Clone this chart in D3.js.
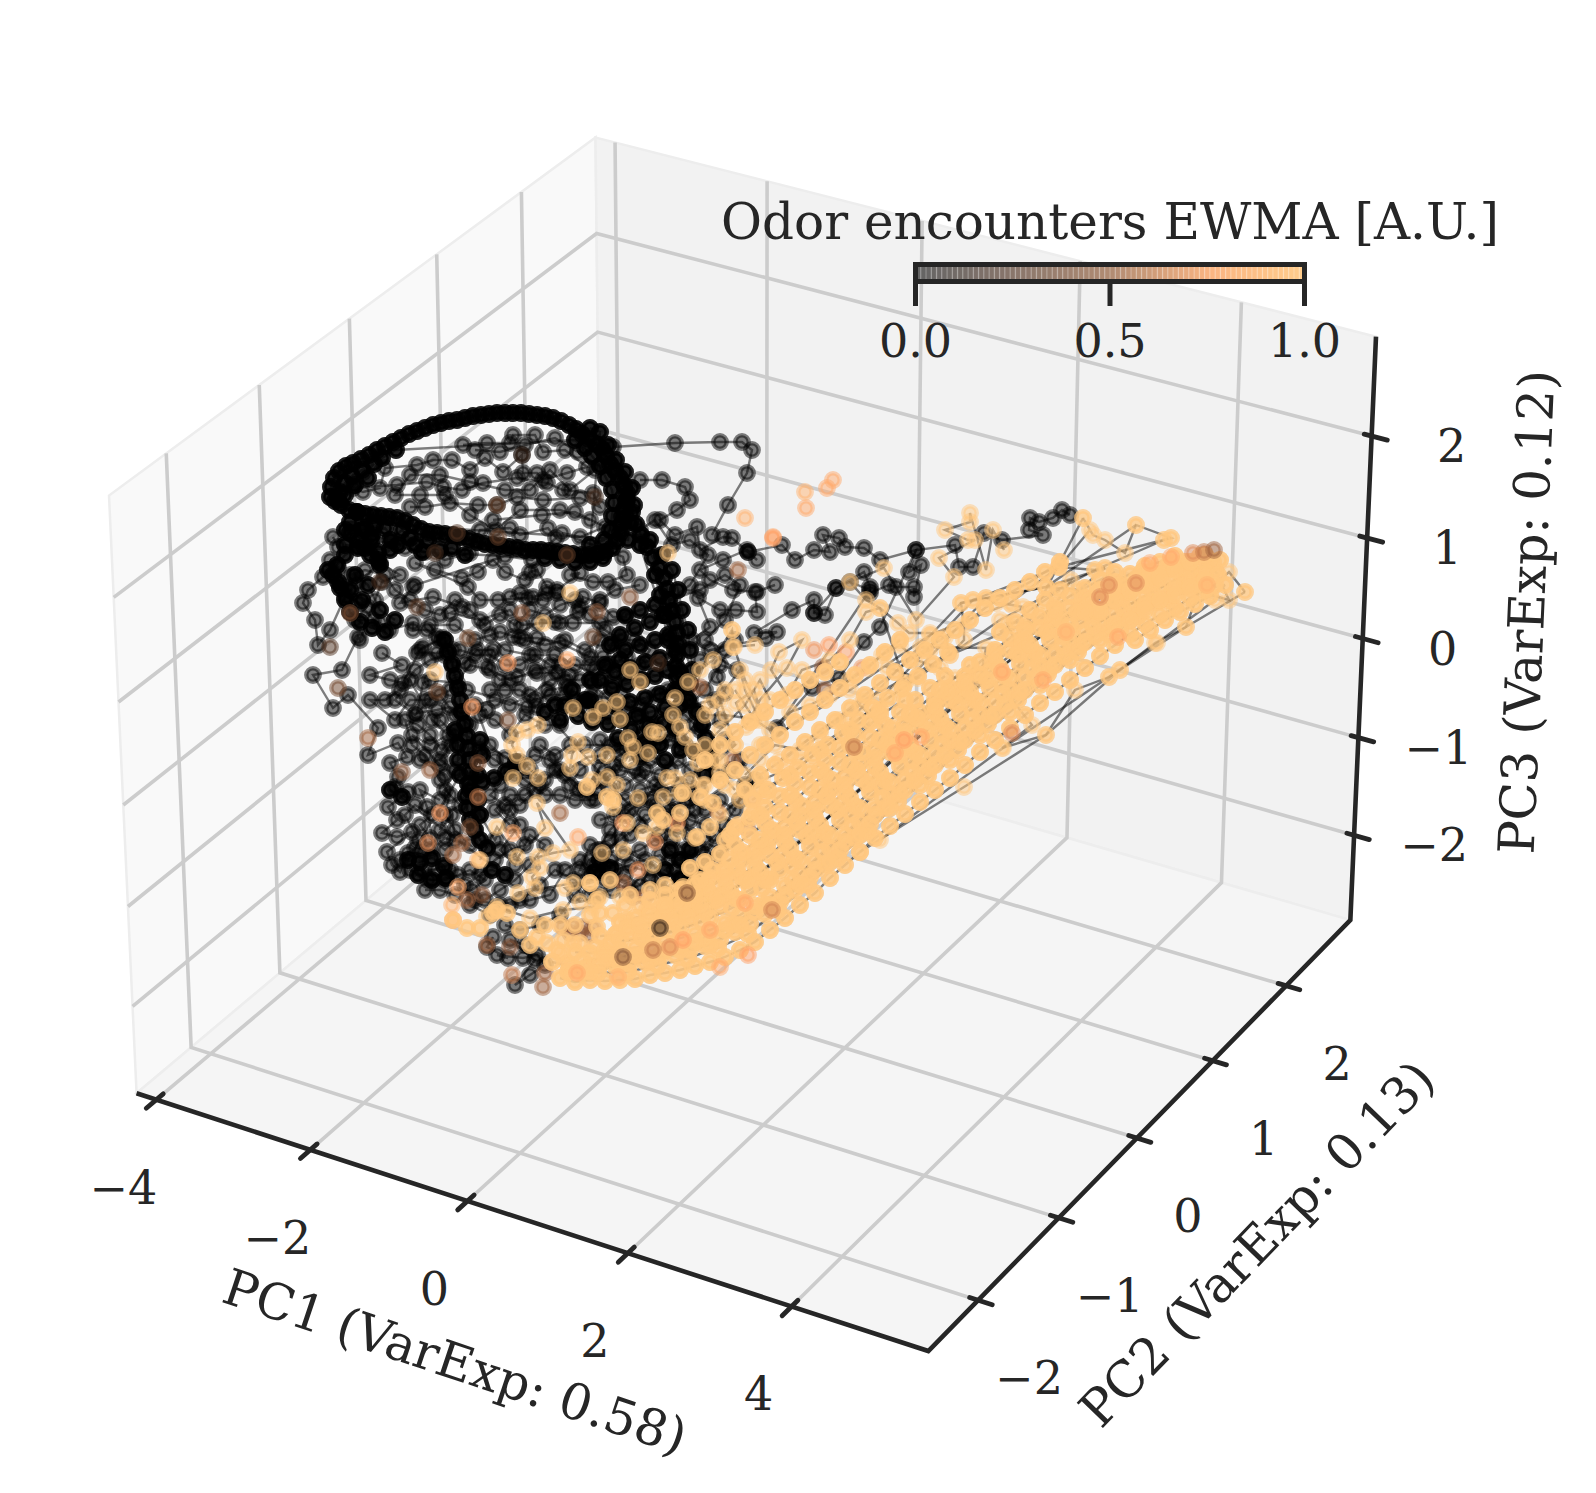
<!DOCTYPE html>
<meta charset="utf-8">

<!-- Load d3.js -->
<script src="https://d3js.org/d3.v7.min.js"></script>

<style>
    body { margin: 0; background: #fff; }
    text { font-family: "DejaVu Serif", serif; fill: #262626; }
</style>

<div id="chart"></div>

<script>
    const width = 1596, height = 1493;

    //  axis limits and ticks
    const xLimits = [-4.26, 5.64], yLimits = [-2.6, 2.9], zLimits = [-2.88, 2.96];
    const xTicks = [-4, -2, 0, 2, 4], yTicks = [-2, -1, 0, 1, 2], zTicks = [-2, -1, 0, 1, 2];
    const colorbarTicks = [0, 0.5, 1];

    //  The trajectory points as they were read off the picture. One flat projection
    //  can not give the three PCs back, so these are view plane positions (x, y, x, y, ...)
    //  run through viewX / viewY below.

    //  dense loops, the trajectory passed there many times
    const rimLoop = [330,497,331,487,334,478,339,471,346,466,353,463,361,459,369,455,377,450,385,446,393,442,401,438,409,434,417,431,425,428,433,425,441,423,449,421,457,420,465,418,473,416,481,415,489,414,497,413,505,413,513,413,521,413,529,414,537,415,545,416,553,418,561,421,569,425,576,429,582,434,589,439,596,444,602,449,606,456,610,464,615,471,620,478,624,485,627,493,626,501,624,509,622,517,621,525,620,533,617,541,612,548,605,552,597,554,589,555,581,555,573,554,565,553,557,552,549,551,541,550,533,550,525,550,517,548,509,547,501,546,493,545,485,544,477,542,469,539,461,537,453,535,445,534,437,533,429,532,421,529,413,525,405,521,397,518,389,517,381,516,373,515,365,514,357,512,349,510,341,505,335,501];
    const rimInner = [338,500,340,492,345,483,352,476,362,470,374,464,345,495,355,485,368,478,382,458,396,450,575,440,585,448,592,456,600,466,606,478,612,490,614,503,612,516,610,530,604,540,590,545,600,432,590,428,608,445,616,460,625,472,632,488,634,505,630,522,628,540,350,522,362,530,375,525,390,540,402,530,415,545,428,540,440,550,452,548,465,555,345,530,358,540,372,535,385,528,398,545,410,538,422,552,545,558,560,560,575,562,590,562,603,558,350,533,365,548,378,560,390,550,345,545];
    const rightBand = [627,500,632,512,636,524,641,535,647,547,653,558,659,568,664,578,667,589,669,600,672,611,675,622,677,633,678,644,677,655,676,666,677,677,680,688,688,700,697,712,702,725,706,738,708,750,710,762,640,545,650,540,662,555,672,570,678,590,682,610,688,630,690,650,692,670,655,575,660,595,663,615,668,640];
    const leftStrand = [357,512,365,528,372,540,378,552,380,565,370,555,358,548,345,555,337,565,333,575,340,588,345,600,350,612,360,622,372,628,385,632,328,570,338,582,350,590,362,600,355,575,368,585,380,610,395,620];
    const lowerStrand = [445,640,448,652,452,664,455,676,458,688,460,700,462,712,465,724,467,736,468,748,470,760,470,772,468,784,466,796,467,808,470,820,475,830,480,840,487,848,470,790,482,782,494,778,506,772,516,762,455,730,458,745,458,760,480,740,482,755,478,775,478,800,480,815,460,775,408,860,420,862,432,858,444,866,418,875,432,880,446,878,492,870,505,875,390,790,402,797];
    const centerMass = [625,615,640,610,655,605,665,615,650,622,635,628,620,635,610,645,625,650,640,645,655,640,668,635,675,650,660,658,645,662,630,668,615,672,600,680,612,688,627,684,642,680,655,676,668,670,680,672,690,684,675,690,660,694,645,698,630,702,615,706,600,710,585,700,572,690,565,705,578,716,592,722,608,724,622,720,637,716,650,712,665,708,680,706,675,728,660,745,645,742,632,730,648,726,663,722,618,738,640,756,665,760,590,680,605,665,620,660,590,700,555,705,560,720,545,712,670,850,680,860,690,850,665,870,680,878,600,860,610,868,595,872,680,750,695,752,712,750,705,775];

    //  the lighter black loops
    const domeRows = [
        [463,445,487,443,510,443,513,435,535,435,543,452,565,450,587,467,567,473,543,480,537,473,523,473,522,455,503,472,485,458,470,470,452,460,433,460,417,465,385,468,380,488,363,492,353,488,397,485,427,482,443,487,462,490,483,483,517,478,547,483,563,490,593,493,600,507,580,498,543,500,517,497,497,505,478,505,450,503,425,507,410,507],
        [475,450,500,452,525,445,555,438,578,452,595,470,570,490,550,470,530,490,505,490,470,482,440,475,410,475,395,495,420,495,445,495,470,515,495,530,520,510,560,510,590,520],
        [493,520,542,515,575,512,605,527,580,537,562,533,623,557,627,575,608,582,593,582,570,575,580,573,557,590,547,587,537,570,530,572,525,580,505,572,493,560,478,572,462,578,435,570,415,563,468,587,480,600,498,600,527,598,543,600],
        [333,537,338,547,360,547,392,540,405,548,425,552,445,560,470,553,480,530,510,528,520,535,548,528,556,538,532,560,505,556,415,585,413,587,400,603,433,597,462,607,450,613,480,620,510,610,522,625,555,622,578,612,600,600,615,590,640,585],
        [330,560,338,567,323,577,308,590,303,603,315,620,318,645,330,630,345,597,357,583,380,563,400,575,382,582,375,600,360,640,358,637,342,670,313,675,333,708,348,695,378,728,368,755,398,743,407,757,390,763,398,777,395,787,408,792,388,807,397,820,382,833,397,837,412,832,387,852,392,865,400,872,408,853,423,853,423,870,437,870,427,807,420,790,440,800],
        [382,653,402,665,370,675,390,680,403,683,420,650,440,640,430,625,455,625,475,640,500,632,525,640,545,645,565,640,585,650,600,640,590,665,560,665,535,670,510,680,490,670,470,665,450,690,430,700,415,715,395,700,410,680,432,720,448,735,430,745,412,735,440,765,420,760,445,775],
        [343,587,347,597,360,603,367,607,355,620,373,620,380,623,390,630,413,623,413,630,427,630,437,637,443,638,423,647,417,653,437,653,453,650,453,667,465,663,477,650,493,650,487,667,500,680,517,677,537,673,557,673,567,687,547,690,537,707,527,707,467,690,457,683,430,680,423,683,417,713,437,710,450,707,460,713,487,710],
        [510,597,520,593,533,597,547,593,557,593,580,607,583,597,600,603,613,617,627,617,600,623,573,623,560,623,537,623,513,637,520,638,537,638,560,643,590,657,603,657,627,657,613,643,593,683,613,683,575,665,555,655,530,655,505,650,490,635],
        [350,575,365,570,385,575,395,590,410,600,425,610,440,615,455,600,470,610,485,625,500,615,515,625,530,610,545,615,560,605,575,600,590,615,605,630,620,640,635,640,650,650,640,665,625,675,610,665,595,670,580,680,565,680,550,665,535,655,520,665,505,665,490,655,475,655,460,650,445,655,430,660,415,670,400,690,385,700,370,700,395,720,410,700,425,700,440,695,455,715,470,725,450,745,440,760,455,770,445,790,460,805,445,815,455,830,470,845,445,838,430,850,415,848,400,860],
        [490,690,505,690,520,690,535,700,550,695,565,695,580,705,595,710,610,715,625,710,640,715,655,725,670,715,685,715,695,725,680,740,665,735,650,750,630,745,615,745,600,755,580,770,570,785,555,770,540,785,525,795,510,795,495,810,510,825,525,845,510,850,495,860,480,875,465,885,450,870,475,900,500,905,520,900,540,885,555,870,575,880,590,895],
        [600,740,620,770,640,775,660,790,680,785,695,810,680,825,660,835,640,825,620,840,605,850,590,860,610,880,630,890,650,880,670,895,690,880,705,855,725,825,740,800,755,780,740,760,725,740],
        [440,720,455,735,442,750,430,735,418,725,405,720,412,745,425,755,440,780,450,795,440,830,452,815,455,840,445,850,430,838,420,825,432,815,415,805,405,815,418,840,410,870,428,880,445,880,458,875,470,870,485,880,472,890,455,895,440,890,425,890],
        [480,715,495,720,510,735,525,715,545,725,560,725,575,700,592,695,607,698,622,695,640,705,655,695,668,690,650,730,635,745,620,755,600,768,585,790,565,775,550,760,535,755,520,762,505,758,490,745,475,705,495,700,510,705,530,695,550,680,570,675],
        [540,745,555,755,570,745,585,745,610,745,625,750,640,738,655,745,670,740,685,745,700,755,690,790,670,770,650,760,635,770,615,765,600,780,590,800,578,790,560,770,545,780,530,770,515,775,500,785,490,795,505,805,520,805,535,790],
        [480,750,495,760,510,770,525,780,545,795,560,795,575,800,595,800,610,790,625,800,640,790,655,785,670,795,690,800,705,810,720,800,735,810,745,785,730,770,715,775],
        [480,815,495,840,510,810,520,825,500,850,515,865,530,835,545,845,530,865,515,880,500,890,485,900,470,905,490,915,510,905,530,900,550,895,565,870,580,860,590,875,575,895,560,915,540,925,520,930,505,925],
        [600,820,615,815,630,835,645,815,660,815,675,810,690,820,705,825,715,835,700,850,688,860,675,870,660,855,645,860,630,865,615,870,605,880,595,865,580,870,590,845,610,840,630,810,650,800,672,825,690,835,705,842,720,850,730,840,715,860,700,870,660,890,680,895,695,880,705,865],
        [596,790,610,775,625,785,645,770,660,775,678,760,690,770,700,790,685,800,670,810,655,805,640,800,625,815,610,830,598,850,610,860,600,872,625,855,640,850,655,840,672,840,685,850,670,860,690,868,680,880,660,880,650,870,640,885,625,875,612,890,598,895],
        [493,937,487,947,508,958,497,955,523,958,537,955,545,965,530,975,515,985,535,960,510,940,525,945],
        [613,447,675,443,720,442,742,442,752,450,747,473,728,505,712,535],
        [640,480,662,480,685,487,690,500,677,510,660,520,675,535,697,527,700,550,723,537,732,538,748,552,757,560,747,550,723,560,700,570,710,580,733,590,757,592,775,585,755,592,757,612,736,610,720,610,698,598,710,627,692,640,737,670,720,665,717,677,725,693,703,715,690,700,710,650,766,638,777,632,754,633,792,610,814,600,814,613,825,615,836,588,864,572,870,587,870,593,889,585,896,587,914,587,914,597,921,565,909,572,916,550,880,560,864,548,845,547,839,538,823,535,830,552,814,550,795,560,782,545,748,552],
        [640,530,655,520,672,545,690,540,708,555,690,585,670,600,700,590,725,575,740,585,725,620,705,640,725,650,700,660,735,640,705,690,690,705,715,700,720,720,700,730],
        [1070,515,1062,510,1053,518,1039,522,1030,518,1029,530,1043,535,1002,540,984,533,973,567,959,567,955,545,916,550,880,627,864,642,839,678,812,688,777,728,870,590,850,582,836,588,814,613]
    ];

    //  the light orange loops, last value of the colour scale
    const orangeRows = [
        [560,978,575,982,590,980,605,981,620,980,635,979,650,975,665,973,680,970,695,966,710,962,725,957,740,950,755,942,770,930,785,918,800,905,815,893,830,878,845,865,860,852,875,838,890,826,905,814,920,802,935,790,950,778,965,765,980,752,995,740,1010,728,1025,715,1040,703,1055,692,1070,680,1085,668,1100,656,1115,645,1130,634,1145,624,1160,615,1175,608,1190,598,1205,590,1215,585],
        [552,962,570,966,585,968,600,965,615,966,630,964,645,962,660,957,675,955,690,950,705,946,720,940,735,932,750,924,765,914,780,902,795,890,810,877,825,864,840,850,855,838,870,824,885,808,900,794,915,780,930,768,945,755,960,742,975,730,990,716,1005,704,1020,692,1035,678,1050,668,1065,656,1080,646,1095,636,1110,628,1125,618,1140,610,1155,602,1170,594,1185,586,1200,578,1215,570],
        [575,952,590,953,605,950,620,950,635,948,650,946,665,942,680,938,695,934,710,930,725,923,740,915,755,906,770,897,785,886,800,874,815,861,830,848,845,835,860,822,875,808,890,794,905,780,920,766,935,754,950,740,965,728,980,715,995,702,1010,690,1025,678,1040,666,1055,654,1070,642,1085,632,1100,622,1115,614,1130,604,1145,596,1160,588,1175,580,1190,572,1205,564,1220,560],
        [600,936,615,935,630,933,645,930,660,927,675,922,690,918,705,912,720,906,735,898,750,890,765,880,780,870,795,858,810,846,825,833,840,820,855,806,870,792,885,780,900,766,915,752,930,740,945,726,960,714,975,700,990,688,1005,676,1020,664,1035,652,1050,640,1065,630,1080,620,1095,610,1110,600,1125,592,1140,584,1155,576,1170,568,1185,562,1200,556],
        [620,922,635,918,650,914,665,910,680,905,695,900,710,893,725,885,740,876,755,866,770,855,785,842,800,830,815,818,830,805,845,792,860,778,875,766,890,752,905,738,920,726,935,712,950,700,965,688,980,675,995,662,1010,650,1025,640,1040,628,1055,618,1070,608,1085,598,1100,590,1115,582,1130,574,1145,566,1160,562,1175,556],
        [650,900,665,895,680,890,695,884,710,878,725,870,740,860,755,850,770,838,785,827,800,815,815,802,830,790,845,777,860,763,875,750,890,738,905,724,920,712,935,700,950,688,965,676,980,662,995,650,1010,638,1025,628,1040,616,1055,606,1070,596,1085,588,1100,580,1115,572],
        [690,868,705,862,720,854,735,845,750,835,765,823,780,812,795,800,810,787,825,775,840,762,855,750,870,737,885,725,900,712,915,700,930,688,945,676],
        [1000,632,1015,622,1030,610,1045,600,1060,590],
        [735,828,750,818,765,808,780,796,795,784,810,772,825,760,840,748,855,735,870,722],
        //  staggered passes that close the band
        [568,972,598,973,628,972,658,965,688,958,718,948,748,934,778,910,808,885,838,858,868,831,898,802,928,776,958,750,988,724,1018,700,1048,674,1078,652,1108,634,1138,616,1168,600,1198,584],
        [612,943,642,938,672,932,702,922,732,908,762,888,792,866,822,840,852,814,882,786,912,760,942,734,972,708,1002,684,1032,658,1062,636,1092,616,1122,598,1152,582,1182,568],
        [662,918,692,908,722,895,752,878,782,856,812,832,842,804,872,778,902,748,932,722,962,696,992,670,1022,646,1052,626,1082,606,1112,588,1142,572,1172,562],
        [712,870,742,852,772,830,802,806,832,780,862,752,892,728],
        [583,960,613,958,643,954,673,947,703,938,733,924,763,904,793,880,823,852,853,826,883,798,913,772,943,744,973,720,1003,694,1033,668,1063,646,1093,626,1123,608,1153,592,1183,576,1213,562],
        [627,928,657,922,687,914,717,900,747,880,777,862,807,836,837,810,867,784,897,756,927,730,957,704,987,680,1017,654,1047,632,1077,612,1107,594,1137,578,1167,566],
        [677,900,707,888,737,868,767,846,797,822,827,796,857,770,887,744,917,718,947,692],
        [590,972,620,965,650,960,680,950,710,945,740,925,770,905,800,885,830,862,860,835,890,808,920,785,950,760,980,735,1010,712,1040,685,1070,660,1100,640,1130,620,1160,600,1190,585],
        [605,958,635,955,665,950,695,942,725,930,755,912,785,895,815,870,845,842,875,815,905,790,935,765,965,740,995,715,1025,690,1055,665,1085,642,1115,624,1145,604,1175,588,1205,572],
        [620,940,650,938,680,928,710,918,740,900,770,880,800,860,830,835,860,808,890,782,920,755,950,730,980,702,1010,678,1040,655,1070,632,1100,612,1130,592,1160,575,1190,570],
        [640,925,670,918,700,905,730,890,760,872,790,848,820,825,850,798,880,772,910,745,940,718,970,692,1000,668,1030,645,1060,620,1090,600,1120,585,1150,572],
        [665,905,695,895,725,878,755,858,785,835,815,810,845,785,875,758,905,732,935,706,965,682,995,655,1025,632,1055,610],
        [700,880,730,860,760,840,790,815,820,790,850,765,880,740,910,714,940,690,970,665],
        [730,835,760,815,790,795,820,770,850,745,880,715,905,700],
        [760,790,790,775,820,750,850,730,880,710],
        //  the upper side of the band
        [745,790,760,775,775,765,790,755,805,742,820,730,835,720,850,708,865,695,880,683,895,672,910,660,925,650,940,640,955,630,970,620,985,608,1000,598,1015,590,1030,582,1045,572,1060,562],
        [720,780,735,770,750,755,765,745,780,735,795,722,810,712,825,700,840,688,855,675,870,665,885,652,900,640],
        [705,760,720,745,735,732,750,722,765,712,780,700,795,690,810,680,825,672,840,662],
        [752,800,768,790,783,778,798,768,813,755,828,745,843,733,858,720,873,708,888,698,903,688,918,676,933,664,948,652],
        //  the tip
        [1130,590,1145,585,1160,578,1175,570,1190,562,1205,555,1218,575,1205,580,1190,588,1175,595,1160,600,1145,610,1130,620,1120,630,1135,640,1150,630,1165,620,1180,612,1195,604,1210,596,1225,585,1100,610,1115,600,1085,612,1070,625]
    ];

    //  sparse passes above and below the band, one pass each
    const orangeFringe = [
        [1245,592,1229,572,1214,585,1200,592,1229,600,1210,560,1186,627,1155,643,1120,670,1109,677,1075,690,1046,735,1002,748,1032,725,1012,700,1021,655,1016,643,1007,623,1029,622,1023,607,1012,605,996,603,986,598,973,600,961,603,964,625,964,640,950,655,945,637,930,633,909,633,898,623,880,608,866,612,850,640,830,660,802,670,787,695,771,670,779,652,802,640,787,668,760,700,746,727,736,703,754,690,761,712,745,680,734,647,732,630],
        [1164,540,1171,538,1136,525,1125,553,1105,540,1093,535,1083,518,1090,530,1059,567,1095,570,1105,568,1079,590,1046,587,1071,580,1058,600,1040,620,1020,640],
        [1004,550,993,530,986,570,970,513,970,522,945,530,968,540,975,540,939,558,954,577,916,620,884,568,850,582,866,600,880,608,905,683,918,678,887,667,930,650,921,647,986,648,980,680,960,690,935,705,910,715,895,735,875,720,860,705,840,720,820,735,800,750,775,745,760,760,745,775],
        [735,690,755,720,770,730,790,712,810,705,830,695,850,680,868,668,882,655,900,645,916,660,940,668,955,678,975,672,995,665],
        [720,700,735,745,715,760,725,785,705,800,720,815,740,800,762,780,785,770],
        //  long straight passes
        [860,852,964,787,1046,735,1120,670,1186,627,1245,592],
        [880,840,1003,748,1109,677,1157,643,1215,600],
        [760,745,850,690,930,635,1010,603,1059,567],
        [780,760,864,700,950,655,1029,622,1083,518],
        [905,683,986,598,1046,587,1136,525],
        [880,700,973,600,1059,567,1171,538],
        [850,720,961,603,1046,587,1105,568],
        [800,760,900,690,1000,620,1095,570,1164,540]
    ];

    //  the lower left of the band, where it runs into the dark part
    const orangeFill = [453,920,467,928,493,913,497,910,507,913,480,928,537,937,547,943,557,950,567,963,580,970,560,953,563,940,580,943,595,947,590,967,607,953,600,913,613,913,627,920,617,933,597,927,573,943,640,933,647,910,663,907,680,910,683,887,707,883,723,870,713,900,740,853,743,880,760,847,770,877,770,830,597,900,590,883,610,880,587,787,607,797,613,800,700,797,713,803,680,813,697,837,663,820,657,813,710,827,683,793,725,840,738,825,752,812,765,795,630,895,650,890,665,885,520,930,530,945,545,925,560,925,575,925,590,915,625,905,640,905];

    //  orange loops that run through the dark part, these sit on top of the black
    const orangeChains = [
        [573,708,593,717,603,708,617,702,620,719],
        [538,725,527,730,517,733,512,745,517,755,527,766,538,778,513,778],
        [578,742,572,755,570,768,588,757,607,755,592,780,607,777,617,785],
        [628,738,633,747,630,760,648,753,658,733,652,732],
        [675,698,673,715,680,727,685,737,693,750,698,763],
        [667,778,675,778,690,780,705,785,720,773,735,790],
        [640,682,630,670,688,682,700,670,713,660,732,630,733,647,755,645],
        [480,860,497,827,517,857,545,828,537,803,570,850,553,853,538,857,540,868,532,877,535,888,518,893,573,883,590,883,565,888,580,902,600,897,593,907,563,910,530,918,497,907,487,917],
        [602,853,623,850,653,865,620,897,613,807,627,823,643,833,657,827,677,833,695,838,663,797,680,793,703,785,638,798,720,760,735,745,705,745,720,730,745,705,760,680,770,700],
        [710,705,725,690,740,670,745,690,760,720,725,715,705,715]
    ];

    //  single points in between, [x, y, odor value]
    const midPoints = [
        [457,533,.25],[497,505,.3],[498,537,.3],[567,555,.3],[435,553,.2],[595,497,.2],[522,455,.15],[380,582,.2],[417,607,.25],[522,613,.4],[468,638,.35],[658,663,.2],[630,597,.4],[593,637,.3],[597,612,.4],[508,663,.8],[567,660,.85],[350,613,.4],[330,647,.25],[338,688,.35],[437,692,.3],[472,707,.8],[508,720,.35],[745,518,.9],[773,537,.85],[738,570,.5],[668,553,1],[570,593,1],[543,623,1],[435,672,1],[700,687,.5],
        [368,738,.5],[402,772,.4],[430,770,.45],[478,797,.6],[470,827,.35],[478,763,.4],[428,843,.7],[462,843,.5],[453,855,.5],[478,860,.9],[458,887,.85],[482,895,.4],[467,900,.5],[452,905,.9],[453,920,.85],[487,945,.5],[510,947,.4],[543,987,.5],[512,975,.6],[545,973,.5],
        [563,927,.45],[573,927,.45],[583,927,.45],[593,928,.45],[570,933,.45],[580,933,.45],[590,935,.45],[578,837,.85],[560,813,.5],[513,833,.85],[440,813,.8],[623,823,.8],[638,870,.75],[677,823,.8],[655,842,.75],[623,883,.5],[633,897,.4],[645,897,.45],[747,828,.55],[753,798,.65],[733,760,.5],[718,812,.55],
        [833,480,.85],[827,488,.85],[805,492,.9],[806,508,.85],[773,538,.8],[862,668,.75],[823,667,.45],[829,645,.8],[846,652,.8],[814,650,.75],[825,690,.45]
    ];
    //  these ones are drawn over the orange band
    const lateMidPoints = [
        [1100,597,.7],[1109,585,.7],[1118,637,.85],[1136,583,.7],[1150,563,.85],[1171,557,.85],[1193,553,.7],[1204,552,.6],[1214,550,.5],[1207,585,.9],[921,737,.85],[904,740,.8],[895,753,.85],[854,747,.6],[1043,680,.85],[1002,672,.85],[1012,733,.7],[1066,632,.9],
        [745,903,.85],[710,930,.85],[670,947,.7],[653,950,.6],[577,973,.85],[618,977,.9],[720,967,.85],[748,955,.8],[683,940,.8],[660,928,.15],[623,957,.4],[772,910,.65],[687,893,.4]
    ];

    const svg = d3.select("#chart")
        .append("svg")
            .attr("width", width)
            .attr("height", height)
            .style("display", "block");

    //  matplotlib's default 3d camera: elev 30, azim -60, dist 10, box aspect 4:4:3
    const aspect = [4, 4, 3].map(d => d * 1.8294640721620434 / Math.hypot(4, 4, 3));
    const elev = 30 * Math.PI / 180, azim = -60 * Math.PI / 180;
    const w = [Math.cos(elev) * Math.cos(azim), Math.cos(elev) * Math.sin(azim), Math.sin(elev)];
    const u = [-Math.sin(azim), Math.cos(azim), 0];
    const v = [w[1] * u[2] - w[2] * u[1], w[2] * u[0] - w[0] * u[2], w[0] * u[1] - w[1] * u[0]];
    const eye = aspect.map((d, i) => d / 2 + 10 * w[i]);
    const dot = (a, b) => a[0] * b[0] + a[1] * b[1] + a[2] * b[2];

    const xBox = d3.scaleLinear().domain(xLimits).range([0, aspect[0]]);
    const yBox = d3.scaleLinear().domain(yLimits).range([0, aspect[1]]);
    const zBox = d3.scaleLinear().domain(zLimits).range([0, aspect[2]]);

    function camera(x, y, z) {
        const d = [xBox(x) - eye[0], yBox(y) - eye[1], zBox(z) - eye[2]];
        return [dot(d, u) / -dot(d, w), dot(d, v) / -dot(d, w)];
    }

    //  fit the camera plane to the box corners of the figure
    const [x0, x1] = xLimits, [y0, y1] = yLimits, [z0, z1] = zLimits;
    const screenX = d3.scaleLinear()
        .domain([camera(x0, y0, z1)[0], camera(x1, y1, z1)[0]])
        .range([109, 1376]);
    const screenY = d3.scaleLinear()
        .domain([camera(x1, y0, z0)[1], camera(x0, y1, z1)[1]])
        .range([1351, 137.5]);

    function project(x, y, z) {
        const c = camera(x, y, z);
        return [screenX(c[0]), screenY(c[1])];
    }
    const path3d = pts => d3.line()(pts.map(p => project(p[0], p[1], p[2])));

    //  the points are already in the view plane
    const viewX = d3.scaleLinear().domain([0, 1596]).range([0, width]);
    const viewY = d3.scaleLinear().domain([0, 1493]).range([0, height]);

    //  copper colormap
    const copper = t => d3.rgb(Math.min(255, 318.75 * t), 199.2 * t, 126.9 * t);

    //  panes
    const panes = [
        {fill: "#f9f9f9", pts: [[x0, y0, z0], [x0, y1, z0], [x0, y1, z1], [x0, y0, z1]]},
        {fill: "#f2f2f2", pts: [[x0, y1, z0], [x1, y1, z0], [x1, y1, z1], [x0, y1, z1]]},
        {fill: "#f5f5f5", pts: [[x0, y0, z0], [x1, y0, z0], [x1, y1, z0], [x0, y1, z0]]}
    ];
    svg.selectAll(".pane")
        .data(panes)
        .join("path")
            .attr("class", "pane")
            .attr("d", d => path3d(d.pts) + "Z")
            .style("fill", d => d.fill)
            .style("stroke", "#ededed")
            .style("stroke-width", 2.5);

    //  grid lines, over the floor and up the walls
    const gridLines = [
        ...xTicks.map(t => [[t, y0, z0], [t, y1, z0], [t, y1, z1]]),
        ...yTicks.map(t => [[x1, t, z0], [x0, t, z0], [x0, t, z1]]),
        ...zTicks.map(t => [[x0, y0, t], [x0, y1, t], [x1, y1, t]])
    ];
    svg.selectAll(".grid")
        .data(gridLines)
        .join("path")
            .attr("class", "grid")
            .attr("d", path3d)
            .style("fill", "none")
            .style("stroke", "#cccccc")
            .style("stroke-width", 3.6);

    //  visible axis lines
    const spines = [
        [[x0, y0, z0], [x1, y0, z0], [x1, y1, z0], [x1, y1, z1]]
    ];
    svg.selectAll(".spine")
        .data(spines)
        .join("path")
            .attr("class", "spine")
            .attr("d", path3d)
            .style("fill", "none")
            .style("stroke", "#262626")
            .style("stroke-width", 4.6);

    //  ticks, a bit in and a bit out of the box
    const tickMarks = [
        ...xTicks.map(t => [[t, y0 - 0.11, z0], [t, y0 + 0.075, z0]]),
        ...yTicks.map(t => [[x1 - 0.1, t, z0], [x1 + 0.17, t, z0]]),
        ...zTicks.map(t => [[x1 - 0.09, y1, t], [x1 + 0.19, y1, t]])
    ];
    svg.selectAll(".tick")
        .data(tickMarks)
        .join("path")
            .attr("class", "tick")
            .attr("d", path3d)
            .style("fill", "none")
            .style("stroke", "#262626")
            .style("stroke-linecap", "round")
            .style("stroke-width", 4.8);

    //  tick labels
    const fmt = d => d3.format("d")(d).replace("-", "\u2212");
    const tickLabels = [
        ...xTicks.map(t => ({t: t, pos: project(t, y0, z0), dx: -33, dy: 88})),
        ...yTicks.map(t => ({t: t, pos: project(x1, t, z0), dx: 51, dy: 78})),
        ...zTicks.map(t => ({t: t, pos: project(x1, y1, t), dx: 80, dy: 10}))
    ];
    svg.selectAll(".ticklabel")
        .data(tickLabels)
        .join("text")
            .attr("class", "ticklabel")
            .attr("x", d => d.pos[0] + d.dx)
            .attr("y", d => d.pos[1] + d.dy)
            .attr("text-anchor", "middle")
            .attr("dominant-baseline", "central")
            .style("font-size", "46px")
            .text(d => fmt(d.t));

    //  axis titles
    const axisTitles = [
        {label: "PC1 (VarExp: 0.58)", x: 455, y: 1362, rot: 18.5},
        {label: "PC2 (VarExp: 0.13)", x: 1257, y: 1244, rot: -46},
        {label: "PC3 (VarExp: 0.12)", x: 1527, y: 612, rot: -87.5}
    ];
    svg.selectAll(".axistitle")
        .data(axisTitles)
        .join("text")
            .attr("class", "axistitle")
            .attr("transform", d => `translate(${d.x},${d.y}) rotate(${d.rot})`)
            .attr("text-anchor", "middle")
            .attr("dominant-baseline", "central")
            .style("font-size", "50px")
            .text(d => d.label);

    //  flat [x, y, x, y, ...] to points
    function toPoints(flat, value) {
        const pts = [];
        for (let i = 0; i < flat.length; i += 2) pts.push({x: flat[i], y: flat[i + 1], value: value});
        return pts;
    }

    const layer = svg.append("g");

    function drawLine(pts) {
        layer.append("path")
            .attr("d", d3.line().x(d => viewX(d.x)).y(d => viewY(d.y))(pts))
            .style("fill", "none")
            .style("stroke", "#000")
            .style("stroke-opacity", 0.5)
            .style("stroke-width", 2.4);
    }
    function drawDots(pts) {
        layer.append("g")
            .selectAll("circle")
            .data(pts)
            .join("circle")
                .attr("cx", d => viewX(d.x))
                .attr("cy", d => viewY(d.y))
                .attr("r", 6.7)
                .style("fill", d => copper(d.value))
                .style("fill-opacity", 0.5)
                .style("stroke", d => copper(d.value))
                .style("stroke-opacity", 0.5)
                .style("stroke-width", 4.4);
    }

    const denseLoops = [rimLoop, rimInner, rightBand, leftStrand, lowerStrand, centerMass].map(d => toPoints(d, 0));
    const blackLoops = domeRows.map(d => toPoints(d, 0));
    const orangeLoops = orangeRows.map(d => toPoints(d, 1));
    const fringeLoops = orangeFringe.map(d => toPoints(d, 1));
    const chainLoops = orangeChains.map(d => toPoints(d, 1));
    const fillPoints = toPoints(orangeFill, 1);
    const mids = midPoints.map(d => ({x: d[0], y: d[1], value: d[2]}));
    const lateMids = lateMidPoints.map(d => ({x: d[0], y: d[1], value: d[2]}));

    //  lines first, the markers go over them
    [...blackLoops, ...denseLoops, ...orangeLoops, ...fringeLoops, ...chainLoops].forEach(drawLine);

    //  the dense loops were passed over and over
    d3.range(3).forEach(() => denseLoops.forEach(drawDots));
    blackLoops.forEach(drawDots);
    drawDots(mids);
    chainLoops.forEach(drawDots);
    fringeLoops.forEach(drawDots);
    d3.range(2).forEach(() => drawDots(fillPoints));
    d3.range(3).forEach(() => orangeLoops.forEach(drawDots));
    drawDots(lateMids);

    //  colorbar
    const cb = d3.scaleLinear().domain([0, 1]).range([915.5, 1304.5]);
    const cbRamp = d3.scaleLinear()
        .domain([0, 0.33, 0.5, 0.75, 1])
        .range(["#646464", "#967d6e", "#b28c73", "#fab482", "#ffcd8c"]);
    const stripes = d3.range(0, 1, 1 / 74);
    const cbGroup = svg.append("g");
    cbGroup.selectAll("rect")
        .data(stripes)
        .join("rect")
            .attr("x", d => cb(d))
            .attr("y", 265)
            .attr("width", cb(1 / 74) - cb(0))
            .attr("height", 17)
            .style("fill", d => cbRamp(d));
    cbGroup.selectAll("line.seam")
        .data(stripes)
        .join("line")
            .attr("class", "seam")
            .attr("x1", d => cb(d))
            .attr("x2", d => cb(d))
            .attr("y1", 265)
            .attr("y2", 282)
            .style("stroke", "#fff")
            .style("stroke-opacity", 0.2)
            .style("stroke-width", 1.5);
    cbGroup.append("rect")
        .attr("x", cb(0))
        .attr("y", 264.5)
        .attr("width", cb(1) - cb(0))
        .attr("height", 17)
        .style("fill", "none")
        .style("stroke", "#262626")
        .style("stroke-width", 5);
    cbGroup.selectAll("line.cbtick")
        .data(colorbarTicks)
        .join("line")
            .attr("class", "cbtick")
            .attr("x1", d => cb(d))
            .attr("x2", d => cb(d))
            .attr("y1", 282)
            .attr("y2", 306)
            .style("stroke", "#262626")
            .style("stroke-width", 5);
    cbGroup.selectAll("text.cblabel")
        .data(colorbarTicks)
        .join("text")
            .attr("class", "cblabel")
            .attr("x", d => cb(d))
            .attr("y", 341)
            .attr("text-anchor", "middle")
            .attr("dominant-baseline", "central")
            .style("font-size", "46px")
            .text(d => d3.format(".1f")(d));
    cbGroup.append("text")
        .attr("x", 1110)
        .attr("y", 222)
        .attr("text-anchor", "middle")
        .attr("dominant-baseline", "central")
        .style("font-size", "50px")
        .text("Odor encounters EWMA [A.U.]");
</script>
